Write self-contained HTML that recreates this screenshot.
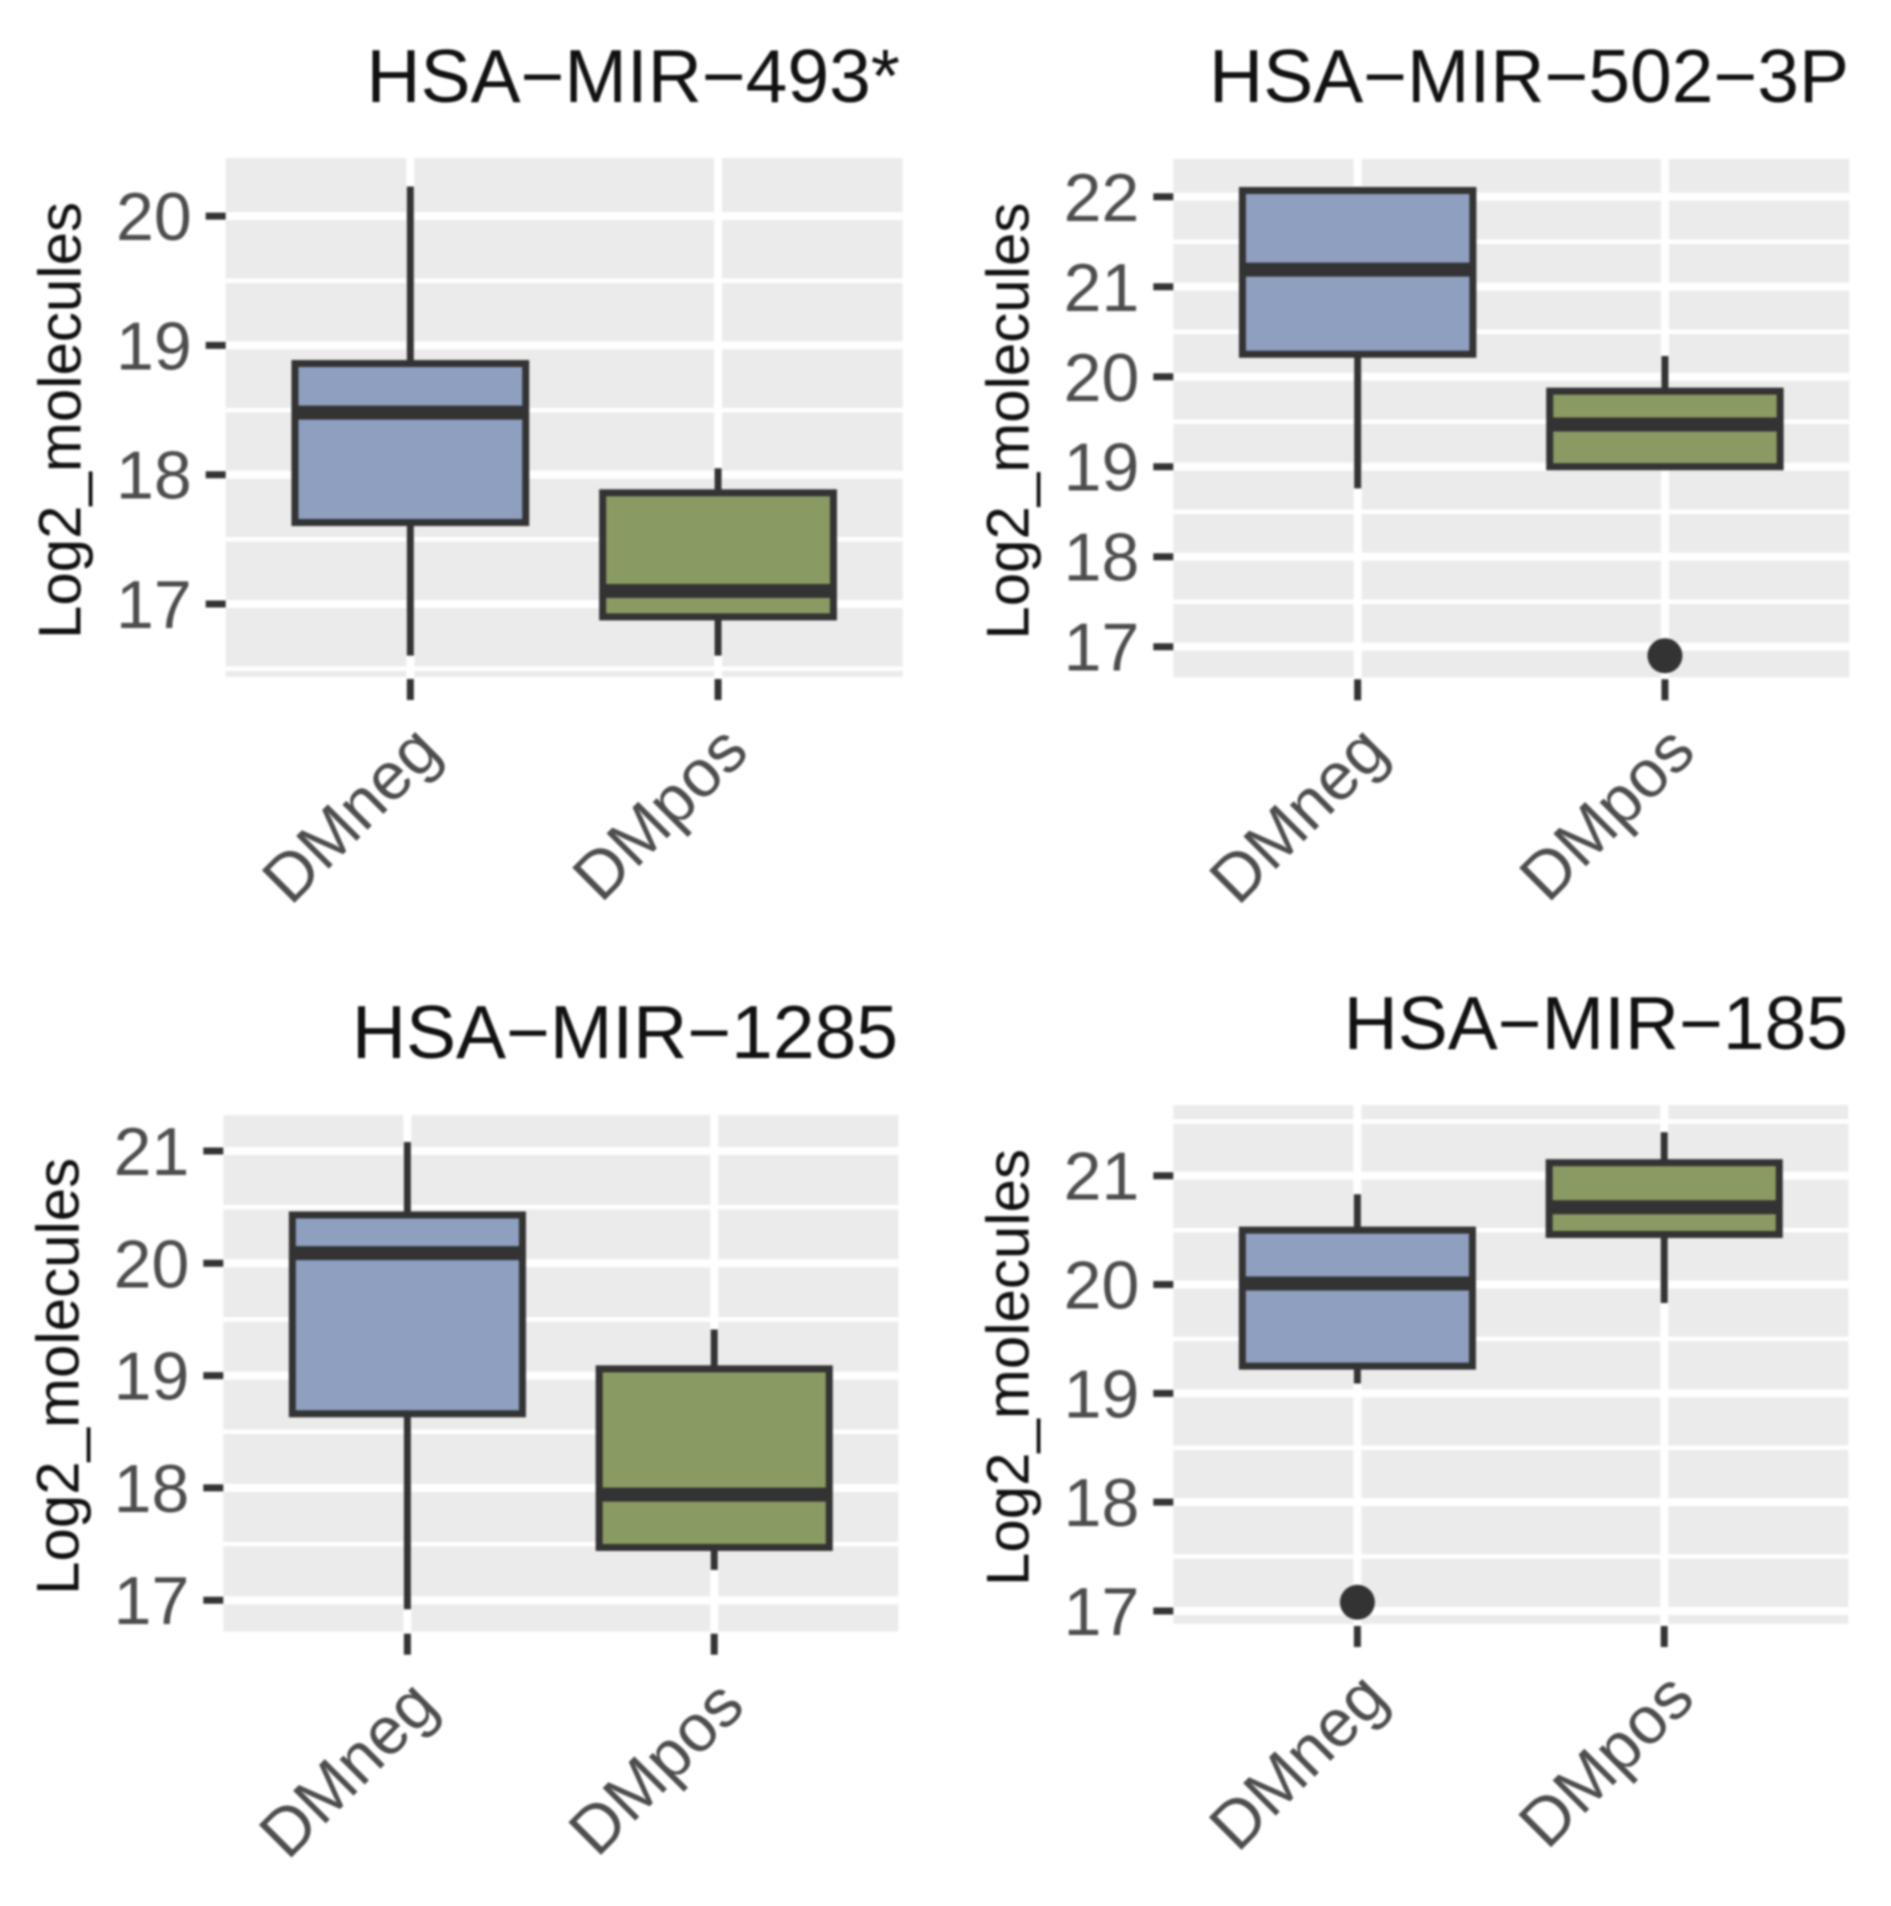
<!DOCTYPE html>
<html lang="en">
<head>
<meta charset="utf-8">
<title>miRNA boxplots</title>
<style>
html,body{margin:0;padding:0;background:#fff;}
#chart{display:block;width:1891px;height:1906px;filter:blur(1px);font-family:"Liberation Sans",Arial,sans-serif;}
</style>
</head>
<body>
<svg id="chart" xmlns="http://www.w3.org/2000/svg" width="1891" height="1906" viewBox="0 0 1891 1906"></svg>
<script>
// ---- data ----
const categories = ['DMneg', 'DMpos'];
const axisTitle = 'Log2_molecules';

const mir493Title = 'HSA\u2212MIR\u2212493*';
const mir493Ticks = [17, 18, 19, 20];
const mir493Domain = [16.435, 20.45];
const mir493WhiskerLow = [16.6, 16.6];
const mir493Q1 = [17.63, 16.9];
const mir493Median = [18.48, 17.1];
const mir493Q3 = [18.86, 17.86];
const mir493WhiskerHigh = [20.23, 18.05];
const mir493Outliers = [[], []];

const mir502Title = 'HSA\u2212MIR\u2212502\u22123P';
const mir502Ticks = [17, 18, 19, 20, 21, 22];
const mir502Domain = [16.66, 22.42];
const mir502WhiskerLow = [18.76, 18.97];
const mir502Q1 = [20.25, 19.0];
const mir502Median = [21.19, 19.47];
const mir502Q3 = [22.07, 19.84];
const mir502WhiskerHigh = [22.11, 20.23];
const mir502Outliers = [[], [16.9]];

const mir1285Title = 'HSA\u2212MIR\u22121285';
const mir1285Ticks = [17, 18, 19, 20, 21];
const mir1285Domain = [16.72, 21.32];
const mir1285WhiskerLow = [16.92, 17.27];
const mir1285Q1 = [18.66, 17.47];
const mir1285Median = [20.09, 17.94];
const mir1285Q3 = [20.43, 19.06];
const mir1285WhiskerHigh = [21.08, 19.41];
const mir1285Outliers = [[], []];

const mir185Title = 'HSA\u2212MIR\u2212185';
const mir185Ticks = [17, 18, 19, 20, 21];
const mir185Domain = [16.88, 21.65];
const mir185WhiskerLow = [19.09, 19.83];
const mir185Q1 = [19.25, 20.46];
const mir185Median = [20.01, 20.71];
const mir185Q3 = [20.5, 21.12];
const mir185WhiskerHigh = [20.83, 21.4];
const mir185Outliers = [[17.08], []];

// ---- layout ----
const panels = [
  {key:'mir-493', title:mir493Title, ticks:mir493Ticks, domain:mir493Domain, low:mir493WhiskerLow, q1:mir493Q1, med:mir493Median, q3:mir493Q3, high:mir493WhiskerHigh, out:mir493Outliers,
   left:225.7, right:902.7, top:158, bottom:677, titleRight:900, titleBase:102},
  {key:'mir-502-3p', title:mir502Title, ticks:mir502Ticks, domain:mir502Domain, low:mir502WhiskerLow, q1:mir502Q1, med:mir502Median, q3:mir502Q3, high:mir502WhiskerHigh, out:mir502Outliers,
   left:1173.3, right:1849.3, top:159, bottom:677.3, titleRight:1849, titleBase:102},
  {key:'mir-1285', title:mir1285Title, ticks:mir1285Ticks, domain:mir1285Domain, low:mir1285WhiskerLow, q1:mir1285Q1, med:mir1285Median, q3:mir1285Q3, high:mir1285WhiskerHigh, out:mir1285Outliers,
   left:223.3, right:898.3, top:1115, bottom:1631.7, titleRight:898, titleBase:1058},
  {key:'mir-185', title:mir185Title, ticks:mir185Ticks, domain:mir185Domain, low:mir185WhiskerLow, q1:mir185Q1, med:mir185Median, q3:mir185Q3, high:mir185WhiskerHigh, out:mir185Outliers,
   left:1173.3, right:1848.3, top:1105, bottom:1624, titleRight:1848, titleBase:1049}
];
const boxFills = ['#8e9fbf', '#8a9a63'];
const DARK = '#333333';
const GREY = '#4d4d4d';

const svg = document.getElementById('chart');
const NS = 'http://www.w3.org/2000/svg';

function mk(parent, tag, attrs, name, text) {
  const el = document.createElementNS(NS, tag);
  for (const k in attrs) el.setAttribute(k, attrs[k]);
  
  
  if (text !== undefined) el.textContent = text;
  parent.appendChild(el);
  return el;
}

function xScale(p, i) {
  return p.left + (i + 0.6) / (categories.length + 0.2) * (p.right - p.left);
}
function yScale(p, v) {
  return p.bottom - (v - p.domain[0]) / (p.domain[1] - p.domain[0]) * (p.bottom - p.top);
}
function bandWidth(p) {
  return (p.right - p.left) / (categories.length + 0.2);
}

panels.forEach(function (p) {
  const g = mk(svg, 'g', {}, 'panel-' + p.key);
  const w = p.right - p.left;

  mk(g, 'text', {x:p.titleRight, y:p.titleBase, 'text-anchor':'end', 'font-size':75, fill:'#111'}, 'panel-title', p.title);
  mk(g, 'rect', {x:p.left, y:p.top, width:w, height:p.bottom - p.top, fill:'#ebebeb'}, 'plot-background');

  // minor horizontal grid at midpoints of the major ticks
  const first = p.ticks[0] - 0.5;
  for (let m = first; m <= p.ticks[p.ticks.length - 1] + 0.5; m += 1) {
    if (m > p.domain[0] && m < p.domain[1]) {
      const ym = yScale(p, m);
      mk(g, 'line', {x1:p.left, x2:p.right, y1:ym, y2:ym, stroke:'#fff', 'stroke-width':4.5}, 'minor-gridline');
    }
  }
  // major grid
  p.ticks.forEach(function (t) {
    const yt = yScale(p, t);
    mk(g, 'line', {x1:p.left, x2:p.right, y1:yt, y2:yt, stroke:'#fff', 'stroke-width':8}, 'major-gridline');
    mk(g, 'line', {x1:p.left - 20, x2:p.left, y1:yt, y2:yt, stroke:DARK, 'stroke-width':7}, 'y-tick');
    mk(g, 'text', {x:p.left - 34, y:yt + 24, 'text-anchor':'end', 'font-size':68, fill:GREY}, 'y-tick-label', String(t));
  });
  categories.forEach(function (c, i) {
    const xc = xScale(p, i);
    mk(g, 'line', {x1:xc, x2:xc, y1:p.top, y2:p.bottom, stroke:'#fff', 'stroke-width':8}, 'vertical-gridline');
    mk(g, 'line', {x1:xc, x2:xc, y1:p.bottom + 2, y2:p.bottom + 23, stroke:DARK, 'stroke-width':7}, 'x-tick');
    const lx = xc + 33, ly = p.bottom + 77;
    mk(g, 'text', {x:lx, y:ly, 'text-anchor':'end', 'font-size':67, fill:GREY, transform:'rotate(-45 ' + lx + ' ' + ly + ')'}, 'x-tick-label', c);
  });

  // boxes
  categories.forEach(function (c, i) {
    const xc = xScale(p, i);
    const bw = bandWidth(p) * 0.75;
    const box = mk(g, 'g', {}, 'box-' + c.toLowerCase());
    mk(box, 'line', {x1:xc, x2:xc, y1:yScale(p, p.high[i]), y2:yScale(p, p.q3[i]), stroke:DARK, 'stroke-width':7}, 'upper-whisker');
    mk(box, 'line', {x1:xc, x2:xc, y1:yScale(p, p.q1[i]), y2:yScale(p, p.low[i]), stroke:DARK, 'stroke-width':7}, 'lower-whisker');
    mk(box, 'rect', {x:xc - bw / 2, y:yScale(p, p.q3[i]), width:bw, height:yScale(p, p.q1[i]) - yScale(p, p.q3[i]), fill:boxFills[i], stroke:DARK, 'stroke-width':7}, 'interquartile-box');
    mk(box, 'line', {x1:xc - bw / 2, x2:xc + bw / 2, y1:yScale(p, p.med[i]), y2:yScale(p, p.med[i]), stroke:DARK, 'stroke-width':14}, 'median-line');
    p.out[i].forEach(function (v) {
      mk(box, 'circle', {cx:xc, cy:yScale(p, v), r:17.5, fill:DARK}, 'outlier-point');
    });
  });

  // axis title
  const tx = p.left - 145, ty = (p.top + p.bottom) / 2 + 3;
  mk(g, 'text', {x:tx, y:ty, 'text-anchor':'middle', 'font-size':60, fill:'#111', transform:'rotate(-90 ' + tx + ' ' + ty + ')'}, 'y-axis-title', axisTitle);
});
</script>
</body>
</html>
